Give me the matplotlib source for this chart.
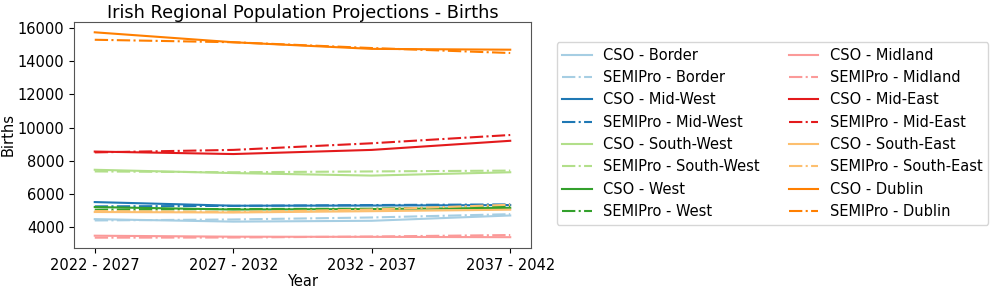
import matplotlib
matplotlib.use("Agg")
from matplotlib import pyplot as plt

years = ["2022 - 2027", "2027 - 2032", "2032 - 2037", "2037 - 2042"]
regions = ["Border", "Mid-West", "South-West", "West",
           "Midland", "Mid-East", "South-East", "Dublin"]

cso = {
    "Border": [4470, 4320, 4370, 4690],
    "Mid-West": [5500, 5280, 5290, 5320],
    "South-West": [7450, 7250, 7100, 7300],
    "West": [5200, 5050, 5080, 5150],
    "Midland": [3470, 3410, 3400, 3380],
    "Mid-East": [8550, 8400, 8650, 9200],
    "South-East": [4900, 4870, 4950, 5040],
    "Dublin": [15750, 15150, 14750, 14700],
}
semipro = {
    "Border": [4390, 4450, 4570, 4770],
    "Mid-West": [5240, 5270, 5320, 5360],
    "South-West": [7350, 7300, 7350, 7400],
    "West": [5040, 5080, 5100, 5230],
    "Midland": [3350, 3360, 3420, 3510],
    "Mid-East": [8500, 8650, 9050, 9550],
    "South-East": [4960, 4900, 5050, 5340],
    "Dublin": [15300, 15150, 14800, 14500],
}

colors = plt.get_cmap("Paired").colors

fig = plt.figure(figsize=(9.97, 2.9), dpi=100)
ax = fig.add_axes([0.0742, 0.145, 0.4584, 0.779])
for i, r in enumerate(regions):
    ax.plot(years, cso[r], color=colors[i], label=f"CSO - {r}")
    ax.plot(years, semipro[r], color=colors[i], linestyle="-.", label=f"SEMIPro - {r}")

ax.set_title("Irish Regional Population Projections - Births", fontsize=12.8, pad=3)
ax.set_xlabel("Year", fontsize=10.5, labelpad=1)
ax.set_ylabel("Births", fontsize=10.5, labelpad=1)
ax.tick_params(labelsize=10.5)
for s in ax.spines.values():
    s.set_color("#555555")
ax.legend(ncol=2, loc="center left", bbox_to_anchor=(1.04, 0.507), fontsize=10.5)

fig.savefig("out.png", dpi=100)
